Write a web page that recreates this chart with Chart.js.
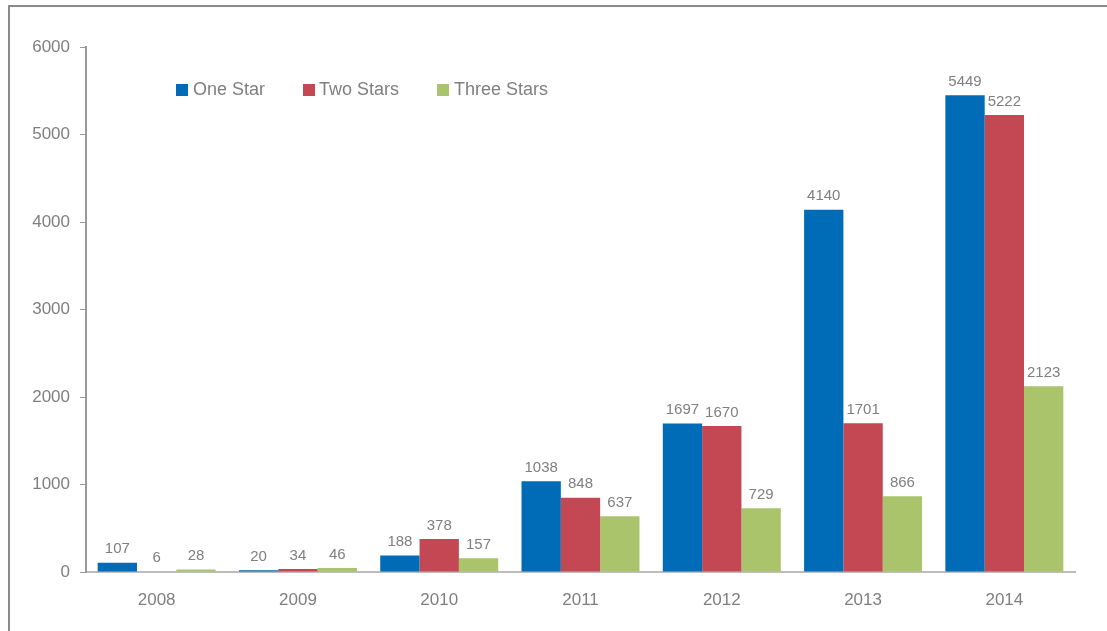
<!DOCTYPE html>
<html>
<head>
<meta charset="utf-8">
<script src="https://cdn.jsdelivr.net/npm/chart.js@4.4.1/dist/chart.umd.min.js"></script>
<style>
  html, body { margin: 0; padding: 0; background: #fff; overflow: hidden; }
  .wrap { position: relative; width: 1107px; height: 631px; }
  canvas { display: block; }
</style>
</head>
<body>
<div class="wrap"><canvas id="stars" width="1107" height="631"></canvas></div>
<script>
const years = ['2008', '2009', '2010', '2011', '2012', '2013', '2014'];
const oneStar = [107, 20, 188, 1038, 1697, 4140, 5449];
const twoStars = [6, 34, 378, 848, 1670, 1701, 5222];
const threeStars = [28, 46, 157, 637, 729, 866, 2123];
const yTicks = [0, 1000, 2000, 3000, 4000, 5000, 6000];

const grey = '#7f7f7f';
const font = '"Liberation Sans", Arial, sans-serif';

// page frame + legend drawn inside the plot area
const framePlugin = {
  id: 'frame',
  beforeDraw(chart) {
    const ctx = chart.ctx;
    ctx.save();
    ctx.strokeStyle = '#8a8a8a';
    ctx.lineWidth = 2;
    ctx.beginPath();
    ctx.moveTo(9, 640);
    ctx.lineTo(9, 6);
    ctx.lineTo(1120, 6);
    ctx.stroke();
    ctx.restore();
  },
  afterDraw(chart) {
    const ctx = chart.ctx;
    const items = [[176, 193], [303, 319], [437, 454]];
    ctx.save();
    ctx.font = '18px ' + font;
    ctx.textBaseline = 'middle';
    chart.data.datasets.forEach((ds, i) => {
      const [sx, tx] = items[i];
      ctx.fillStyle = ds.backgroundColor;
      ctx.fillRect(sx, 84, 12, 12);
      ctx.fillStyle = grey;
      ctx.fillText(ds.label, tx, 90);
    });
    ctx.restore();
  }
};

// value labels over each bar
const valuePlugin = {
  id: 'values',
  afterDatasetsDraw(chart) {
    const ctx = chart.ctx;
    ctx.save();
    ctx.font = '15px ' + font;
    ctx.fillStyle = grey;
    ctx.textAlign = 'center';
    ctx.textBaseline = 'bottom';
    chart.data.datasets.forEach((ds, i) => {
      chart.getDatasetMeta(i).data.forEach((bar, j) => {
        ctx.fillText(String(ds.data[j]), bar.x, bar.y - 6);
      });
    });
    ctx.restore();
  }
};

new Chart(document.getElementById('stars'), {
  type: 'bar',
  data: {
    labels: years,
    datasets: [
      { label: 'One Star', data: oneStar, backgroundColor: '#006bb6' },
      { label: 'Two Stars', data: twoStars, backgroundColor: '#c44853' },
      { label: 'Three Stars', data: threeStars, backgroundColor: '#a9c46a' },
    ],
  },
  options: {
    responsive: false,
    animation: false,
    events: [],
    layout: { padding: { top: 47, right: 32, left: 0, bottom: 0 } },
    datasets: { bar: { categoryPercentage: 0.835, barPercentage: 1.0 } },
    scales: {
      x: {
        grid: { display: false },
        border: { color: '#bdbdbd', width: 2 },
        ticks: { color: grey, font: { family: font, size: 17 }, padding: 10 },
        afterFit: (s) => { s.height = 59; },
      },
      y: {
        min: 0,
        max: 6000,
        afterBuildTicks: (s) => { s.ticks = yTicks.map((v) => ({ value: v })); },
        grid: { drawOnChartArea: false, drawTicks: true, tickLength: 6, color: '#999' },
        border: { color: '#999', width: 2 },
        ticks: {
          color: grey,
          font: { family: font, size: 17 },
          padding: 10,
          callback: (v) => String(v),
        },
        afterFit: (s) => { s.width = 86; },
      },
    },
    plugins: {
      legend: { display: false },
      tooltip: { enabled: false },
    },
  },
  plugins: [framePlugin, valuePlugin],
});
</script>
</body>
</html>
